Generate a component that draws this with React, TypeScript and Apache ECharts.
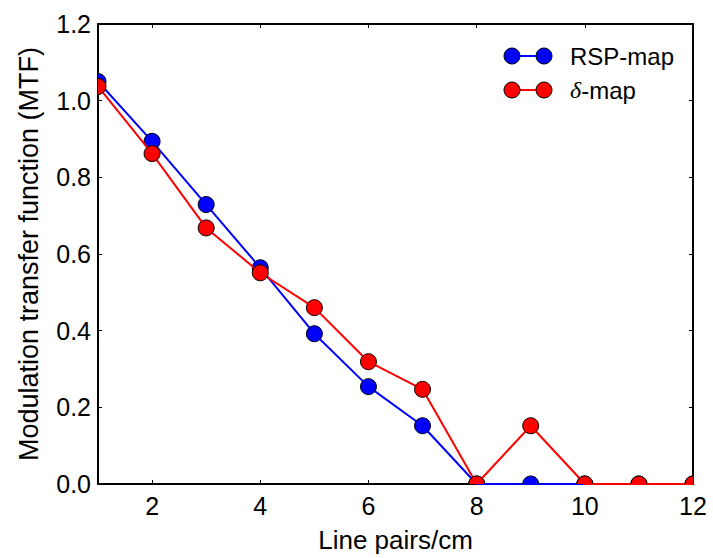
import React, { useEffect, useRef } from "react";
import * as echarts from "echarts";

const xValues = [1, 2, 3, 4, 5, 6, 7, 8, 9, 10, 11, 12];
const rspMap = [1.05, 0.894, 0.729, 0.564, 0.392, 0.254, 0.152, 0, 0, 0, 0, 0];
const deltaMap = [1.037, 0.862, 0.668, 0.551, 0.46, 0.319, 0.247, 0, 0.152, 0, 0, 0];
const xTickLabels = [2, 4, 6, 8, 10, 12];
const yTicks = [0, 0.2, 0.4, 0.6, 0.8, 1.0, 1.2];

const BLUE = "#0000ff";
const RED = "#ff0000";
const FONT = "Liberation Sans, Arial, sans-serif";

export default function App() {
  const ref = useRef<HTMLDivElement>(null);
  useEffect(() => {
    if (!ref.current) return;
    const chart = echarts.init(ref.current, undefined, { renderer: "svg" });
    const pairs = (ys: number[]) => xValues.map((x, i) => [x, ys[i]]);
    const markerSeries = (name: string, ys: number[], color: string, z: number) => ({
      type: "custom",
      name,
      clip: true,
      z,
      data: pairs(ys),
      encode: { x: 0, y: 1 },
      renderItem: (params: any, api: any) => {
        const p = api.coord([api.value(0), api.value(1)]);
        return {
          type: "circle",
          shape: { cx: p[0], cy: p[1], r: 8 },
          style: { fill: color, stroke: "#000", lineWidth: 1 },
        };
      },
    });
    const lineSeries = (name: string, ys: number[], color: string, z: number) => ({
      type: "line",
      name,
      data: pairs(ys),
      showSymbol: false,
      symbol: "none",
      clip: true,
      z,
      lineStyle: { color, width: 2 },
    });
    const axisCommon = {
      axisLine: { show: true, onZero: false, lineStyle: { color: "#000", width: 2 } },
      splitLine: { show: false },
    };
    const tickCustom = { show: true, inside: true, length: 4, lineStyle: { color: "#000", width: 1 }, customValues: xTickLabels };
    const yTickCfg = { show: true, inside: true, length: 4, lineStyle: { color: "#000", width: 1 }, customValues: yTicks };
    const legendX1 = 512;
    const legendX2 = 544;
    const legendRow = (y: number, color: string, text: string) => [
      { type: "line", shape: { x1: legendX1, y1: y, x2: legendX2, y2: y }, style: { stroke: color, lineWidth: 2 }, z: 100 },
      { type: "circle", shape: { cx: legendX1, cy: y, r: 8 }, style: { fill: color, stroke: "#000", lineWidth: 1 }, z: 101 },
      { type: "circle", shape: { cx: legendX2, cy: y, r: 8 }, style: { fill: color, stroke: "#000", lineWidth: 1 }, z: 101 },
      {
        type: "text",
        x: 570,
        y,
        z: 101,
        style: {
          text,
          fill: "#000",
          font: `24px ${FONT}`,
          verticalAlign: "middle",
          rich: {
            d: { fontFamily: "Liberation Serif, Times New Roman, serif", fontStyle: "italic", fontSize: 24, fill: "#000" },
          },
        },
      },
    ];
    chart.setOption({
      animation: false,
      backgroundColor: "#fff",
      grid: { left: 98, right: 20, top: 24, bottom: 73, containLabel: false },
      xAxis: [
        {
          type: "value",
          min: 1,
          max: 12,
          position: "bottom",
          name: "Line pairs/cm",
          nameLocation: "middle",
          nameGap: 43,
          nameTextStyle: { fontFamily: FONT, fontSize: 26, color: "#000" },
          ...axisCommon,
          axisTick: tickCustom,
          axisLabel: {
            show: true,
            customValues: xTickLabels,
            margin: 9,
            fontFamily: FONT,
            fontSize: 25,
            color: "#000",
          },
        },
        {
          type: "value",
          min: 1,
          max: 12,
          position: "top",
          ...axisCommon,
          axisTick: tickCustom,
          axisLabel: { show: false },
        },
      ],
      yAxis: [
        {
          type: "value",
          min: 0,
          max: 1.2,
          interval: 0.2,
          position: "left",
          name: "Modulation transfer function (MTF)",
          nameLocation: "middle",
          nameGap: 56,
          nameTextStyle: { fontFamily: FONT, fontSize: 27, color: "#000" },
          ...axisCommon,
          axisTick: yTickCfg,
          axisLabel: {
            show: true,
            customValues: yTicks,
            margin: 7,
            fontFamily: FONT,
            fontSize: 25,
            color: "#000",
            formatter: (v: number) => v.toFixed(1),
          },
        },
        {
          type: "value",
          min: 0,
          max: 1.2,
          interval: 0.2,
          position: "right",
          ...axisCommon,
          axisTick: yTickCfg,
          axisLabel: { show: false },
        },
      ],
      series: [
        lineSeries("RSP-map", rspMap, BLUE, 2),
        markerSeries("RSP-map markers", rspMap, BLUE, 3),
        lineSeries("δ-map", deltaMap, RED, 4),
        markerSeries("δ-map markers", deltaMap, RED, 5),
      ],
      graphic: [
        ...legendRow(56, BLUE, "RSP-map"),
        ...legendRow(90, RED, "{d|δ}-map"),
      ],
    });
    return () => chart.dispose();
  }, []);
  return <div ref={ref} style={{ width: 713, height: 558, position: "absolute", left: 0, top: 0 }} />;
}
